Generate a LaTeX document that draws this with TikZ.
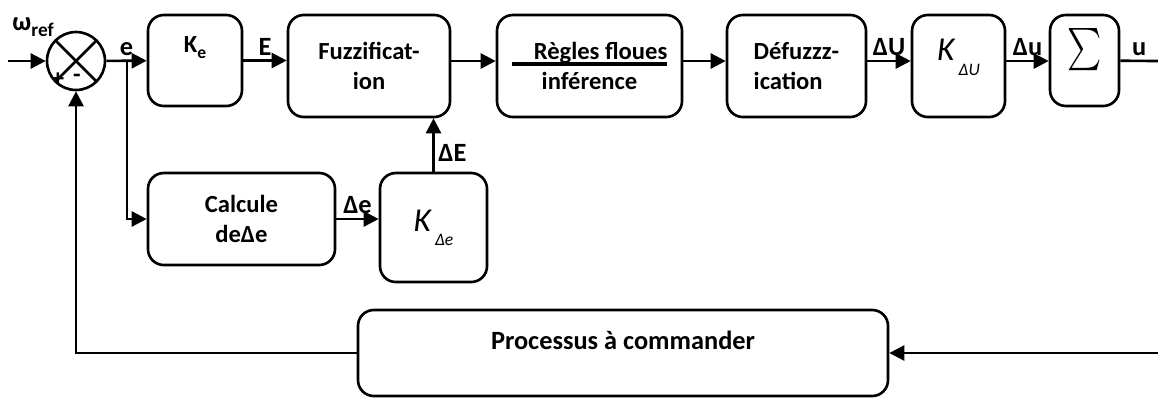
\documentclass[tikz,border=0pt]{standalone}
\usepackage{fontspec}
\usepackage{graphicx}
\setmainfont{Carlito}
\usetikzlibrary{arrows.meta, positioning}

\newcommand{\gainK}[1]{\normalfont{\fontsize{19}{19}\selectfont\itshape K}\,\raisebox{-1.2ex}{\fontsize{10}{10}\selectfont\itshape #1}}
\newcommand{\ulrule}[1]{\setbox0\hbox{#1}\rlap{\rule[-3.5pt]{\wd0}{2pt}}\box0}

\tikzset{
  block/.style = {draw, rounded corners=9pt, align=center, inner sep=0pt, font=\bfseries\fontsize{14}{17}\selectfont},
  wh/.style 2 args = {minimum width=#1*0.02cm, minimum height=#2*0.02cm},
  lift/.style = {text depth=#1},
  sig/.style = {font=\bfseries\fontsize{15}{17}\selectfont, inner sep=2pt},
}

\begin{document}
\begin{tikzpicture}[x=0.02cm, y=-0.02cm, line width=1.5pt, >={Triangle[length=0.3cm, width=0.3cm]}]
    \useasboundingbox (0,0) rectangle (1158,397);
    % comparateur
    \node (sum) [circle, draw, minimum size=1.16cm, path picture={
        \draw (path picture bounding box.north west) -- (path picture bounding box.south east)
              (path picture bounding box.north east) -- (path picture bounding box.south west);}] at (76,61) {};
    \node (plus) [font=\bfseries\fontsize{14}{14}\selectfont, inner sep=0pt] at ([shift={(-18,19)}]sum.center) {+};
    \node (minus) [font=\bfseries\fontsize{14}{14}\selectfont, inner sep=0pt] at ([shift={(1,17)}]sum.center) {-};
    \node (wref) [sig, anchor=south east] at ([shift={(4,2)}]sum.north west) {ω\raisebox{-.5ex}{\fontsize{11}{11}\selectfont ref}};

    % chaine directe
    \node (ke) [block, wh={94}{91}, lift=18pt] at (195,60.5) {K\raisebox{-.5ex}{\fontsize{10}{10}\selectfont e}};
    \node (fuzz) [block, wh={162}{102}] at (369,66) {Fuzzificat-\\ion};
    \node (regles) [block, wh={185}{102}] at (589.5,66) {\ulrule{\hspace{0.9em}Règles floues}\\inférence};
    \node (defuzz) [block, wh={139}{102}, align=left] at (796.5,66) {Défuzzz-\\ication};
    \node (kdu) [block, wh={93}{102}, lift=18pt] at (958.5,66) {\gainK{ΔU}};
    \node (sigma) [block, wh={69}{91}, lift=16pt] at (1084.5,60.5) {\scalebox{1.85}[2.4]{$\sum$}};

    % retour de l'erreur
    \node (calc) [block, wh={187}{92}] at (241.5,219) {Calcule\\deΔe};
    \node (kde) [block, wh={107}{109}, lift=8pt] at (433.5,227.5) {\gainK{Δe}};
    \node (proc) [block, wh={530}{86}, lift=14pt, font=\bfseries\fontsize{15}{17}\selectfont] at (623,353) {Processus à commander};

    \coordinate (win) at (8,61);
    \coordinate (branch) at (127,61);
    \coordinate (uout) at (1158,61);
    \coordinate (fbin) at (1158,353);

    \path [->]
    (win) edge (sum)
    (sum) edge node [sig, above] {e} (ke)
    (ke) edge node [sig, above] {E} (ke.east -| fuzz.west)
    (fuzz.east |- sum) edge (regles.west |- sum)
    (regles.east |- sum) edge (defuzz.west |- sum)
    (defuzz.east |- sum) edge node [sig, above] {ΔU} (kdu.west |- sum)
    (kdu.east |- sum) edge node [sig, above] {Δu} (sigma.west |- sum)
    (calc) edge node [sig, above] {Δe} (calc.east -| kde.west)
    (kde) edge node [sig, right, pos=0.35] {ΔE} (kde.north |- fuzz.south)
    (fbin) edge (proc);
    \draw (sigma) -- node [sig, above] {u} (uout);
    \draw [->] (branch) |- (calc);
    \draw [->] (proc) -| (sum);
\end{tikzpicture}
\end{document}
